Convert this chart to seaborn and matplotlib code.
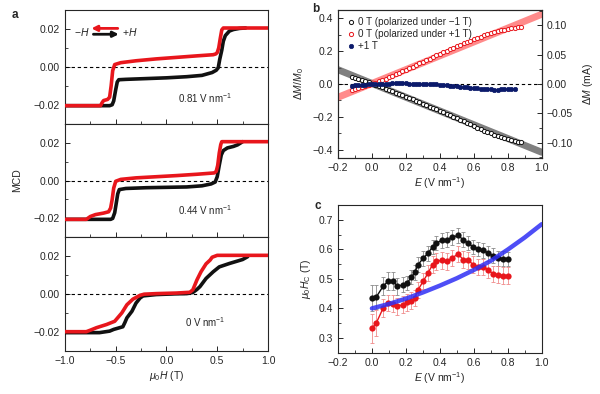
import numpy as np
import pandas as pd
import matplotlib
matplotlib.use("Agg")
import matplotlib.pyplot as plt
from matplotlib.ticker import MultipleLocator
import seaborn as sns

# ---------------- panel a: MCD hysteresis loops ----------------
# (H sweep up = black, H sweep down = red)
a1_black_H = [-1.0, -0.56, -0.535, -0.52, -0.50, -0.485, -0.47, -0.40, -0.2, 0.0, 0.2, 0.35, 0.45, 0.49, 0.51,
              0.525, 0.545, 0.56, 0.58, 0.62, 0.66, 0.72, 0.78]
a1_black_M = [-0.0205, -0.0205, -0.0200, -0.018, -0.012, -0.008, -0.0068, -0.0066, -0.0062, -0.0058, -0.0052,
              -0.0045, -0.0030, -0.0018, -0.0005, 0.004, 0.0088, 0.0135, 0.0165, 0.0189, 0.0197, 0.0203, 0.0205]
a1_red_H = [1.0, 0.56, 0.545, 0.53, 0.515, 0.50, 0.485, 0.46, 0.3, 0.1, -0.1, -0.3, -0.45, -0.51, -0.53, -0.545,
            -0.56, -0.58, -0.62, -0.635, -0.65, -1.0]
a1_red_M = [0.0205, 0.0205, 0.0195, 0.0150, 0.0100, 0.0075, 0.0068, 0.0064, 0.0058, 0.0050, 0.0042, 0.0032,
            0.0022, 0.0012, -0.002, -0.010, -0.016, -0.0172, -0.0178, -0.019, -0.0205, -0.0205]

a2_black_H = [-1.0, -0.55, -0.53, -0.51, -0.495, -0.48, -0.465, -0.4, -0.2, 0.0, 0.2, 0.35, 0.44, 0.48, 0.50,
              0.52, 0.54, 0.56, 0.60, 0.66, 0.70, 0.73, 0.75]
a2_black_M = [-0.0205, -0.0205, -0.020, -0.017, -0.012, -0.007, -0.0048, -0.0042, -0.0038, -0.0036, -0.0034,
              -0.0028, -0.0018, -0.0008, 0.002, 0.008, 0.0135, 0.0158, 0.0172, 0.018, 0.0188, 0.0198, 0.0205]
a2_red_H = [1.0, 0.545, 0.535, 0.52, 0.505, 0.49, 0.47, 0.3, 0.1, -0.1, -0.3, -0.45, -0.5, -0.52, -0.535, -0.55,
            -0.57, -0.62, -0.70, -0.75, -0.79, -1.0]
a2_red_M = [0.0205, 0.0205, 0.019, 0.0145, 0.008, 0.0048, 0.0040, 0.0033, 0.0026, 0.0020, 0.0014, 0.0006,
            -0.0004, -0.004, -0.010, -0.0145, -0.0165, -0.0172, -0.018, -0.019, -0.0205, -0.0205]

a3_black_H = [-1.0, -0.75, -0.66, -0.56, -0.52, -0.43, -0.41, -0.39, -0.34, -0.30, -0.26, -0.23, -0.1, 0.1, 0.2,
              0.26, 0.30, 0.33, 0.39, 0.46, 0.52, 0.62, 0.75, 0.80]
a3_black_M = [-0.0203, -0.0203, -0.0203, -0.0195, -0.0186, -0.0172, -0.015, -0.0125, -0.009, -0.0047, -0.002,
              -0.0009, -0.0002, 0.0002, 0.0003, 0.0009, 0.0025, 0.004, 0.0083, 0.0118, 0.0144, 0.0162, 0.0183,
              0.0198]
a3_red_H = [1.0, 0.50, 0.45, 0.43, 0.39, 0.34, 0.30, 0.26, 0.23, 0.1, -0.1, -0.22, -0.26, -0.33, -0.39, -0.44,
            -0.51, -0.59, -0.69, -0.75, -0.79, -1.0]
a3_red_M = [0.0205, 0.0205, 0.0195, 0.018, 0.016, 0.0118, 0.0075, 0.0023, 0.001, 0.0006, 0.0003, 0.0, -0.0006,
            -0.0026, -0.0056, -0.0099, -0.0143, -0.016, -0.0177, -0.019, -0.0198, -0.0198]

a_fields = ["0.81 V nm$^{-1}$", "0.44 V nm$^{-1}$", "0 V nm$^{-1}$"]

# ---------------- panel b: magnetoelectric response ----------------
b_E = [-0.12, -0.10, -0.08, -0.06, -0.04, -0.02, 0.00, 0.02, 0.04, 0.06, 0.08, 0.10, 0.12, 0.14, 0.16, 0.18,
       0.20, 0.22, 0.24, 0.26, 0.28, 0.30, 0.32, 0.34, 0.36, 0.38, 0.40, 0.42, 0.44, 0.46, 0.48, 0.50, 0.52,
       0.54, 0.56, 0.58, 0.60, 0.62, 0.64, 0.66, 0.68, 0.70, 0.72, 0.74, 0.76, 0.78, 0.80, 0.82, 0.84, 0.86,
       0.88]
b_neg = [0.043, 0.036, 0.030, 0.024, 0.017, 0.010, 0.002, -0.006, -0.014, -0.021, -0.029, -0.037, -0.045,
         -0.053, -0.061, -0.069, -0.077, -0.085, -0.094, -0.102, -0.111, -0.119, -0.128, -0.137, -0.146,
         -0.155, -0.164, -0.173, -0.182, -0.191, -0.200, -0.209, -0.218, -0.227, -0.236, -0.246, -0.256,
         -0.265, -0.274, -0.283, -0.292, -0.300, -0.308, -0.316, -0.323, -0.330, -0.336, -0.341, -0.346,
         -0.350, -0.353]
b_pos = [-0.038, -0.031, -0.025, -0.019, -0.013, -0.006, 0.001, 0.009, 0.017, 0.025, 0.033, 0.042, 0.051,
         0.060, 0.069, 0.078, 0.087, 0.096, 0.106, 0.115, 0.125, 0.135, 0.145, 0.155, 0.165, 0.174, 0.184,
         0.193, 0.202, 0.211, 0.220, 0.229, 0.238, 0.247, 0.256, 0.264, 0.272, 0.280, 0.288, 0.295, 0.302,
         0.309, 0.315, 0.321, 0.326, 0.331, 0.335, 0.339, 0.342, 0.345, 0.347]
b_E_1T = b_E[:49]
b_1T = [-0.010, -0.009, -0.008, -0.006, -0.004, -0.003, -0.001, 0.000, 0.001, 0.002, 0.003, 0.003, 0.004,
        0.005, 0.005, 0.004, 0.004, 0.003, 0.003, 0.002, 0.003, 0.002, 0.001, 0.000, -0.002, -0.003, -0.004,
        -0.006, -0.008, -0.010, -0.012, -0.014, -0.016, -0.018, -0.020, -0.022, -0.024, -0.026, -0.028,
        -0.030, -0.031, -0.033, -0.034, -0.034, -0.033, -0.031, -0.030, -0.029, -0.028]
fit_E = [-0.2, 1.0]
fit_neg = [0.087, -0.415]
fit_pos = [-0.081, 0.424]
b_labels = ["0 T (polarized under \u22121 T)", "0 T (polarized under +1 T)", "+1 T"]

# ---------------- panel c: coercive field vs E ----------------
c_E = [0.0, 0.026, 0.066, 0.095, 0.125, 0.15, 0.184, 0.207, 0.233, 0.252, 0.272, 0.302, 0.331, 0.357, 0.38,
       0.41, 0.44, 0.469, 0.508, 0.538, 0.567, 0.597, 0.626, 0.656, 0.685, 0.715, 0.744, 0.774, 0.803]
c_black = [0.435, 0.439, 0.475, 0.492, 0.492, 0.475, 0.48, 0.486, 0.506, 0.522, 0.548, 0.57, 0.587, 0.608,
           0.621, 0.63, 0.632, 0.64, 0.647, 0.632, 0.621, 0.608, 0.601, 0.596, 0.587, 0.579, 0.57, 0.568, 0.567]
c_black_err = [0.045, 0.04, 0.03, 0.03, 0.03, 0.028, 0.025, 0.025, 0.025, 0.025, 0.025, 0.025, 0.025, 0.025,
               0.025, 0.025, 0.025, 0.025, 0.025, 0.025, 0.025, 0.025, 0.025, 0.025, 0.025, 0.025, 0.025,
               0.025, 0.025]
c_red = [0.332, 0.351, 0.401, 0.418, 0.416, 0.407, 0.413, 0.42, 0.426, 0.435, 0.463, 0.492, 0.52, 0.548, 0.559,
         0.563, 0.559, 0.57, 0.584, 0.565, 0.563, 0.548, 0.54, 0.54, 0.531, 0.516, 0.514, 0.511, 0.511]
c_red_err = [0.05, 0.045, 0.03, 0.028, 0.028, 0.028, 0.028, 0.028, 0.028, 0.028, 0.028, 0.028, 0.028, 0.028,
             0.028, 0.028, 0.028, 0.028, 0.028, 0.028, 0.028, 0.028, 0.028, 0.028, 0.028, 0.028, 0.028, 0.028,
             0.028]
c_fit_E = [0.0, 0.1, 0.2, 0.3, 0.4, 0.5, 0.6, 0.7, 0.8, 0.9, 1.0]
c_fit = [0.400, 0.415, 0.433, 0.454, 0.477, 0.502, 0.530, 0.561, 0.599, 0.640, 0.685]

RED = "#e8161c"
BLACK = "#111111"
NAVY = "#0b1a6b"

# ---------------- style ----------------
sns.set_style("ticks")
plt.rcParams["font.family"] = ["Liberation Sans", "DejaVu Sans"]
plt.rcParams["mathtext.fontset"] = "custom"
plt.rcParams["mathtext.rm"] = "Liberation Sans"
plt.rcParams["mathtext.it"] = "Liberation Sans:italic"
plt.rcParams["font.size"] = 7.5
plt.rcParams["axes.linewidth"] = 0.8
for ax_ in ("xtick", "ytick"):
    plt.rcParams[f"{ax_}.direction"] = "in"
    plt.rcParams[f"{ax_}.major.size"] = 3.5
    plt.rcParams[f"{ax_}.minor.size"] = 2.0
    plt.rcParams[f"{ax_}.major.width"] = 0.7
    plt.rcParams[f"{ax_}.minor.width"] = 0.6
    plt.rcParams[f"{ax_}.labelsize"] = 7.5

fig = plt.figure(figsize=(6.0, 3.94), dpi=100)

# ---------------- panel a ----------------
a_left, a_w = 0.1083, 0.3383
a_bot, a_h = 0.1091, 0.2885
a_sets = [(a1_black_H, a1_black_M, a1_red_H, a1_red_M),
          (a2_black_H, a2_black_M, a2_red_H, a2_red_M),
          (a3_black_H, a3_black_M, a3_red_H, a3_red_M)]
a_text_y = [0.226, 0.24, 0.255]
axes_a = []
for i, (bh, bm, rh, rm) in enumerate(a_sets):
    ax = fig.add_axes([a_left, a_bot + (2 - i) * a_h, a_w, a_h])
    axes_a.append(ax)
    ax.axhline(0, color="black", ls="--", lw=0.8, dashes=(3, 2.5), zorder=1)
    sns.lineplot(x=bh, y=bm, sort=False, estimator=None, color=BLACK, lw=2.6, ax=ax, zorder=3)
    sns.lineplot(x=rh, y=rm, sort=False, estimator=None, color=RED, lw=2.6, ax=ax, zorder=4)
    ax.set_xlim(-1.0, 1.0)
    ax.set_ylim(-0.03, 0.03)
    ax.set_yticks([-0.02, 0.0, 0.02])
    ax.yaxis.set_minor_locator(MultipleLocator(0.01))
    ax.xaxis.set_major_locator(MultipleLocator(0.5))
    ax.xaxis.set_minor_locator(MultipleLocator(0.25))
    ax.tick_params(which="both", top=False, right=False)
    ax.text(0.69, a_text_y[i], a_fields[i], transform=ax.transAxes, ha="center", va="center", fontsize=7)
    if i < 2:
        ax.tick_params(labelbottom=False)
    ax.set_xlabel("")
    ax.set_ylabel("")

axes_a[2].set_xlabel(r"$\mu_0H$ (T)", labelpad=2)
fig.text(0.028, 0.543, "MCD", rotation=90, ha="center", va="center", fontsize=7.5)

# sweep-direction arrows in top panel
ax = axes_a[0]
ax.annotate("", xy=(-0.74, 0.0203), xytext=(-0.48, 0.0203),
            arrowprops=dict(arrowstyle="-|>", color=RED, lw=2.0, mutation_scale=8, shrinkA=0, shrinkB=0))
ax.annotate("", xy=(-0.47, 0.0172), xytext=(-0.72, 0.0172),
            arrowprops=dict(arrowstyle="-|>", color=BLACK, lw=2.0, mutation_scale=8, shrinkA=0, shrinkB=0))
ax.text(-0.83, 0.0185, r"$-H$", ha="center", va="center", fontsize=7.5)
ax.text(-0.36, 0.0185, r"$+H$", ha="center", va="center", fontsize=7.5)

# ---------------- panel b ----------------
axb = fig.add_axes([0.5633, 0.599, 0.3395, 0.3756])
axb.axhline(0, color="black", ls="--", lw=0.8, dashes=(3, 2.5), zorder=1)
sns.lineplot(x=fit_E, y=fit_neg, color="#555555", alpha=0.75, lw=5, ax=axb, zorder=2)
sns.lineplot(x=fit_E, y=fit_pos, color="#ff4d4d", alpha=0.65, lw=5, ax=axb, zorder=2)
sns.scatterplot(x=b_E, y=b_neg, marker="o", s=9, color="white", edgecolor=BLACK, linewidth=0.7,
                ax=axb, zorder=3, label=b_labels[0])
sns.scatterplot(x=b_E, y=b_pos, marker="o", s=9, color="white", edgecolor=RED, linewidth=0.7,
                ax=axb, zorder=3, label=b_labels[1])
sns.scatterplot(x=b_E_1T, y=b_1T, marker="o", s=10, color=NAVY, edgecolor=NAVY, linewidth=0.5,
                ax=axb, zorder=3, label=b_labels[2])
axb.set_xlim(-0.2, 1.0)
axb.set_ylim(-0.45, 0.45)
axb.xaxis.set_major_locator(MultipleLocator(0.2))
axb.xaxis.set_minor_locator(MultipleLocator(0.1))
axb.yaxis.set_major_locator(MultipleLocator(0.2))
axb.yaxis.set_minor_locator(MultipleLocator(0.1))
axb.tick_params(which="both", top=False, right=False)
axb.set_xlabel(r"$E$ (V nm$^{-1}$)", labelpad=2)
axb.set_ylabel(r"$\Delta M/M_0$", labelpad=5)
axb.legend(loc="upper left", frameon=False, fontsize=7.1, handletextpad=0.1, labelspacing=0.2,
           borderaxespad=0.3, handlelength=1.2, markerscale=1.0)

axb2 = axb.twinx()
axb2.set_ylim(-0.126, 0.126)
axb2.yaxis.set_major_locator(MultipleLocator(0.05))
axb2.yaxis.set_minor_locator(MultipleLocator(0.025))
axb2.tick_params(which="both", direction="in")
axb2.set_ylabel(r"$\Delta M$ (mA)", labelpad=6)

# ---------------- panel c ----------------
axc = fig.add_axes([0.5633, 0.1048, 0.3395, 0.3749])
axc.errorbar(c_E, c_black, yerr=c_black_err, fmt="none", ecolor="#8a8a8a", elinewidth=0.6, capsize=1.6,
             capthick=0.6, zorder=2)
axc.errorbar(c_E, c_red, yerr=c_red_err, fmt="none", ecolor="#f08a8a", elinewidth=0.6, capsize=1.6,
             capthick=0.6, zorder=2)
sns.lineplot(x=c_E, y=c_black, color=BLACK, lw=1.0, marker="o", markersize=4.5, markeredgewidth=0,
             ax=axc, zorder=3)
sns.lineplot(x=c_E, y=c_red, color=RED, lw=1.0, marker="o", markersize=4.5, markeredgewidth=0,
             ax=axc, zorder=3)
sns.lineplot(x=c_fit_E, y=c_fit, color="#2f2ff5", alpha=0.85, lw=3.2, ax=axc, zorder=4)
axc.set_xlim(-0.2, 1.0)
axc.set_ylim(0.25, 0.75)
axc.xaxis.set_major_locator(MultipleLocator(0.2))
axc.xaxis.set_minor_locator(MultipleLocator(0.1))
axc.yaxis.set_major_locator(MultipleLocator(0.1))
axc.yaxis.set_minor_locator(MultipleLocator(0.05))
axc.tick_params(which="both", top=False, right=False)
axc.set_xlabel(r"$E$ (V nm$^{-1}$)", labelpad=2)
axc.set_ylabel(r"$\mu_0H_\mathrm{C}$ (T)", labelpad=4)

# panel letters
fig.text(0.025, 0.962, "a", fontsize=8.5, fontweight="bold", ha="center", va="center")
fig.text(0.527, 0.978, "b", fontsize=8.5, fontweight="bold", ha="center", va="center")
fig.text(0.53, 0.478, "c", fontsize=8.5, fontweight="bold", ha="center", va="center")

fig.savefig("out.png", dpi=100)
